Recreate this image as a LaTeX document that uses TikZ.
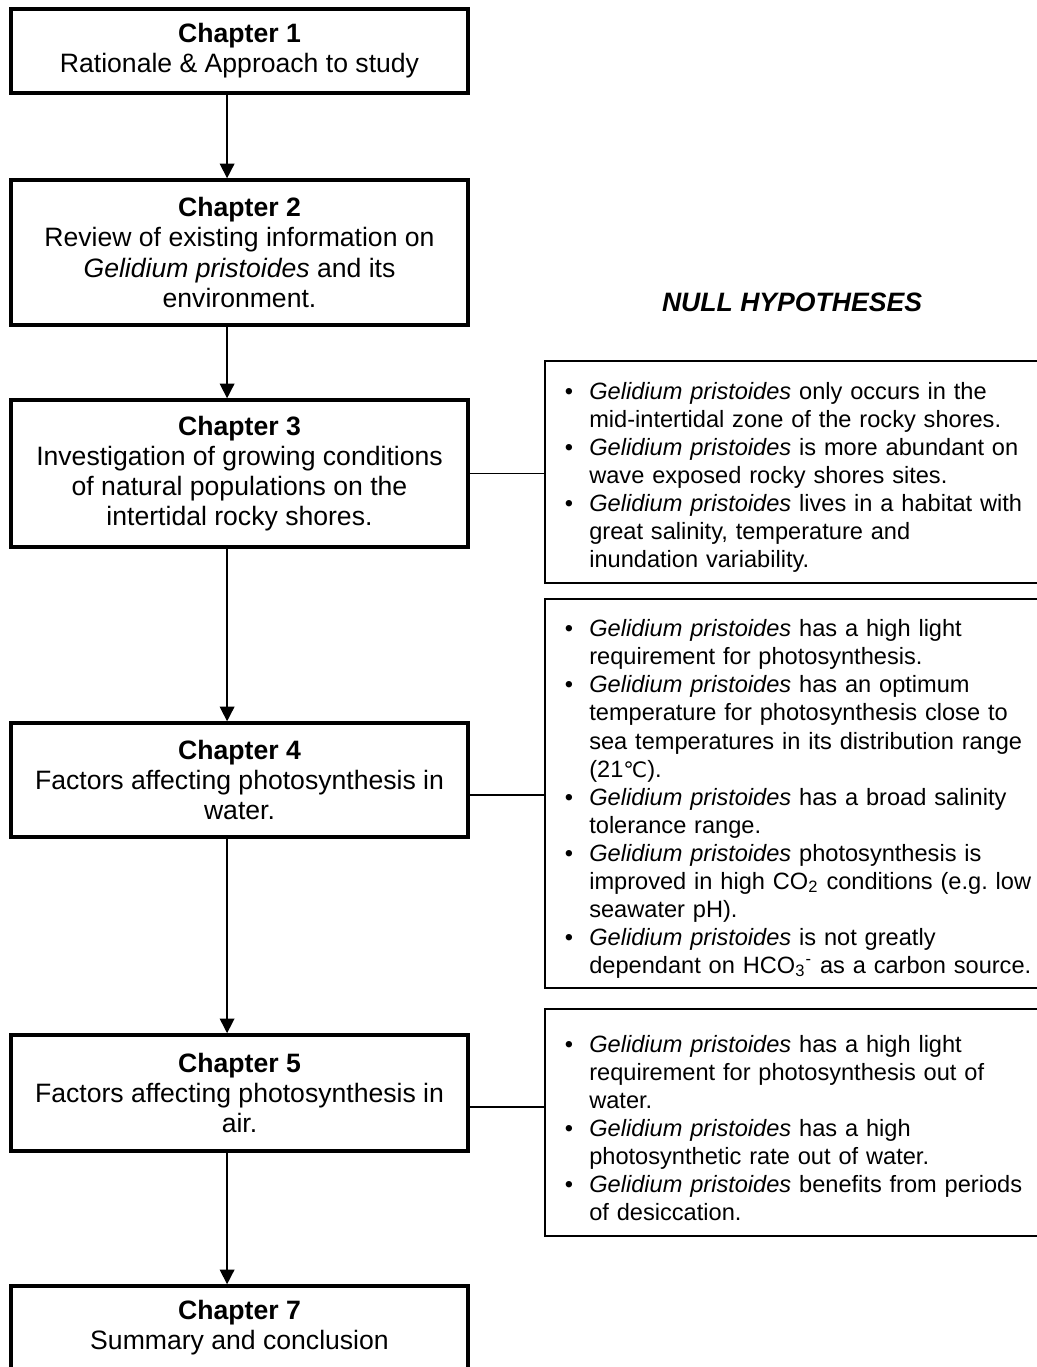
\documentclass[tikz,border=0pt]{standalone}
\usepackage{fontspec}
\setmainfont{Liberation Sans}
\newfontfamily\symfont[Scale=0.9]{DejaVu Sans}
\usetikzlibrary{arrows.meta}
\tikzset{
  chapter/.style={draw=black,line width=1.6pt,fill=white,align=center,font=\fontsize{12}{13.6}\selectfont,minimum width=206.2pt,inner sep=2pt},
  hypbox/.style={draw=black,line width=0.9pt,fill=white,text width=225pt,inner xsep=9pt,align=left,font=\fontsize{10.65}{12.65}\selectfont\frenchspacing},
  heading/.style={font=\fontsize{12}{13.6}\selectfont\bfseries\itshape},
  flow/.style={-{Triangle[length=6.6pt,width=6.6pt]},line width=0.7pt},
  link/.style={line width=0.7pt}
}
\newcommand{\hypitem}[1]{\par\hangindent=11pt\hangafter=1\noindent\makebox[11pt][l]{\textbullet}#1}
\newcommand{\gp}{\textit{Gelidium pristoides}}

\begin{document}
\begin{tikzpicture}[x=0.4513pt,y=-0.4513pt]
  \path[use as bounding box,fill=white] (0,0) rectangle (1037,1367);
  \node[chapter,minimum height=37.9pt] (ch1) at (239.5,51) {\textbf{Chapter 1}\\Rationale \& Approach to study};
  \node[chapter,minimum height=65.4pt] (ch2) at (239.5,252.5) {\textbf{Chapter 2}\\Review of existing information on\\\gp{} and its\\environment.};
  \node[chapter,minimum height=66.3pt] (ch3) at (239.5,473.5) {\textbf{Chapter 3}\\Investigation of growing conditions\\of natural populations on the\\intertidal rocky shores.};
  \node[chapter,minimum height=51.4pt] (ch4) at (239.5,780) {\textbf{Chapter 4}\\Factors affecting photosynthesis in\\water.};
  \node[chapter,minimum height=52.4pt] (ch5) at (239.5,1093) {\textbf{Chapter 5}\\Factors affecting photosynthesis in\\air.};
  \node[chapter,minimum height=37.9pt] (ch7) at (239.5,1328) {\textbf{Chapter 7}\\Summary and conclusion};
  \node[heading] (nullhyp) at (792,302) {NULL HYPOTHESES};
  \node[hypbox,minimum height=100.2pt,anchor=west] (hyp3) at (544,472) {%
    \hypitem{\gp{} only occurs in the\newline mid-intertidal zone of the rocky shores.}
    \hypitem{\gp{} is more abundant on\newline wave exposed rocky shores sites.}
    \hypitem{\gp{} lives in a habitat with\newline great salinity, temperature and\newline inundation variability.}\par};
  \node[hypbox,minimum height=175.6pt,anchor=west] (hyp4) at (544,793.5) {%
    \hypitem{\gp{} has a high light\newline requirement for photosynthesis.}
    \hypitem{\gp{} has an optimum\newline temperature for photosynthesis close to\newline sea temperatures in its distribution range\newline (21{\symfont ℃}).}
    \hypitem{\gp{} has a broad salinity\newline tolerance range.}
    \hypitem{\gp{} photosynthesis is\newline improved in high CO\textsubscript{2} conditions (e.g. low\newline seawater pH).}
    \hypitem{\gp{} is not greatly\newline dependant on HCO\textsubscript{3}\textsuperscript{-} as a carbon source.}\par};
  \node[hypbox,minimum height=102.4pt,anchor=west] (hyp5) at (544,1122.5) {%
    \hypitem{\gp{} has a high light\newline requirement for photosynthesis out of\newline water.}
    \hypitem{\gp{} has a high\newline photosynthetic rate out of water.}
    \hypitem{\gp{} benefits from periods\newline of desiccation.}\par};
  \foreach \a/\b in {ch1/ch2,ch2/ch3,ch3/ch4,ch4/ch5,ch5/ch7}
    \draw[flow] ([xshift=-5.6pt]\a.south) -- ([xshift=-5.6pt]\b.north);
  \draw[link] (ch3.east) -- (ch3.east -| hyp3.west);
  \draw[link] ([yshift=-6.8pt]ch4.east) -- ([yshift=-6.8pt]ch4.east -| hyp4.west);
  \draw[link] ([yshift=-6.3pt]ch5.east) -- ([yshift=-6.3pt]ch5.east -| hyp5.west);
\end{tikzpicture}
\end{document}
